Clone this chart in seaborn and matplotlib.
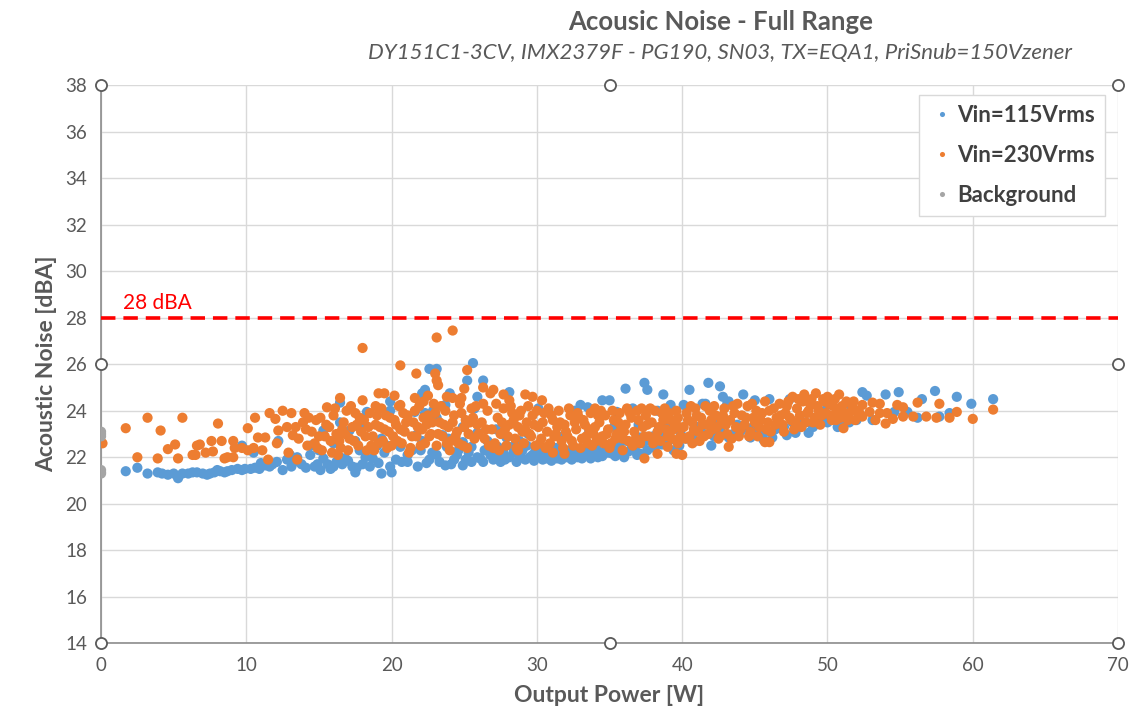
import numpy as np
import pandas as pd
import matplotlib
matplotlib.use('Agg')
import matplotlib.pyplot as plt
import seaborn as sns

# ### values (Output Power [W], Acoustic Noise [dBA])
vin115 = [
    # 0 - 13 W
    (1.7, 21.4), (2.5, 21.55), (3.2, 21.3), (3.9, 21.35), (4.2, 21.3), (4.6, 21.25), (5.0, 21.3),
    (5.3, 21.1), (5.6, 21.3), (6.0, 21.3), (6.3, 21.35), (6.6, 21.35), (7.0, 21.3), (7.3, 21.25),
    (7.5, 21.3), (7.8, 21.35), (8.0, 21.45), (8.2, 21.4), (8.5, 21.35), (8.7, 21.4), (9.0, 21.45),
    (9.4, 21.5), (9.7, 21.45), (9.9, 21.5), (10.3, 21.5), (10.6, 21.55), (10.9, 21.5), (11.0, 21.75),
    (11.3, 21.65), (11.6, 21.6), (11.8, 21.7), (12.1, 21.8), (12.5, 21.45), (12.8, 21.9), (13.1, 21.6),
    (9.7, 22.5), (10.5, 22.2), (12.2, 22.7),
    # 13 - 26 W
    (13.0, 22.1), (13.5, 22.0), (13.8, 21.7), (14.1, 21.55), (14.4, 22.1), (14.4, 22.5), (14.7, 21.6),
    (15.1, 21.45), (15.3, 21.95), (15.3, 23.15), (15.6, 21.7), (15.8, 21.5), (16.0, 22.6), (16.2, 21.8),
    (16.45, 22.0), (16.45, 23.5), (16.45, 24.35), (16.8, 21.95), (17.1, 23.15), (17.3, 21.6), (17.5, 22.7),
    (17.5, 21.35), (17.6, 21.55), (17.8, 23.3), (18.0, 21.7), (18.2, 22.0), (18.3, 23.95), (18.7, 21.95),
    (19.0, 22.5), (19.3, 21.3), (19.5, 22.2), (19.7, 22.5), (19.9, 24.4), (19.9, 21.6), (19.9, 24.0),
    (20.0, 21.35), (20.3, 21.9), (20.6, 22.45), (20.7, 21.8), (20.8, 23.15), (21.1, 21.8), (21.1, 22.1),
    (21.4, 22.3), (21.6, 23.95), (21.7, 22.95), (22.1, 22.7), (22.1, 24.75), (22.3, 24.9), (22.3, 23.9),
    (22.4, 21.75), (22.6, 25.8), (22.8, 22.2), (22.85, 24.0), (23.1, 25.8), (23.1, 23.7), (23.1, 22.1),
    (23.5, 22.95), (23.7, 21.65), (23.7, 24.25), (23.8, 22.45), (24.0, 24.75), (24.3, 21.9), (24.5, 22.1),
    (24.9, 22.65), (24.9, 23.3), (24.9, 21.65), (25.2, 25.3), (25.5, 21.8), (25.5, 22.45), (25.6, 26.05),
    (25.7, 24.1), (25.9, 24.6), (25.9, 23.05), (25.9, 22.0),
    (16.0, 21.6), (16.6, 21.7), (17.0, 21.85), (18.5, 21.6), (19.1, 21.75), (21.8, 21.6), (22.6, 21.9),
    (23.3, 21.8), (24.1, 21.7), (25.1, 21.9), (25.3, 22.2), (14.9, 21.7), (13.3, 21.8), (15.0, 22.3),
    (17.8, 22.3), (19.3, 22.8), (20.5, 22.6), (22.0, 22.3), (24.6, 22.3), (23.9, 22.8),
    # 26 - 40 W
    (26.1, 21.95), (26.3, 25.3), (26.3, 21.8), (26.6, 22.7), (26.8, 22.1), (27.0, 21.9), (27.3, 22.45),
    (27.5, 21.8), (27.7, 22.2), (27.9, 22.85), (28.1, 24.8), (28.1, 22.0), (28.3, 22.45), (28.6, 21.8),
    (28.8, 22.7), (28.9, 22.0), (29.0, 22.3), (29.2, 21.9), (29.5, 22.0), (29.7, 22.1), (29.8, 21.85),
    (30.0, 22.15), (30.1, 24.1), (30.2, 22.05), (30.4, 21.9), (30.7, 21.95), (30.8, 23.95), (30.9, 22.1),
    (31.0, 21.85), (31.2, 22.2), (31.4, 21.95), (31.6, 22.05), (31.8, 22.2), (32.1, 22.0), (32.3, 22.15),
    (32.4, 21.9), (32.6, 24.0), (32.8, 22.0), (33.0, 24.25), (33.1, 21.95), (33.2, 22.2), (33.4, 22.1),
    (33.5, 24.15), (33.7, 21.95), (33.9, 22.3), (34.2, 22.0), (34.5, 24.45), (34.5, 22.05), (34.7, 22.25),
    (34.9, 22.2), (35.0, 24.45), (35.2, 22.15), (35.5, 23.95), (35.5, 22.3), (35.9, 22.2), (36.0, 22.0),
    (36.1, 24.95), (36.2, 22.7), (36.5, 22.35), (36.6, 24.1), (36.9, 22.1), (37.1, 22.85), (37.1, 22.15),
    (37.4, 25.2), (37.6, 24.9), (37.8, 22.7), (38.1, 22.4), (38.3, 24.0), (38.7, 24.7), (38.8, 22.85),
    (39.2, 24.25), (39.4, 22.3), (39.6, 22.7), (39.9, 23.0),
    (27.2, 23.2), (29.4, 23.0), (31.5, 22.9), (33.6, 23.1), (35.3, 23.3), (37.0, 23.4), (38.5, 23.2), (39.0, 23.5),
    (26.4, 22.3), (26.9, 22.5), (27.4, 22.1), (27.8, 21.9), (28.4, 22.2), (29.3, 22.5), (29.9, 22.3),
    (30.3, 22.35), (30.6, 22.2), (31.3, 22.4), (31.7, 21.9), (32.0, 22.3), (32.5, 22.4), (32.9, 22.25),
    (33.3, 22.4), (33.8, 22.15), (34.1, 22.35), (34.4, 22.2), (34.8, 22.45), (35.4, 22.05), (35.7, 22.45),
    (36.3, 22.25), (36.8, 22.5), (37.3, 22.6), (37.6, 22.3), (38.0, 22.9), (38.6, 22.55), (39.1, 22.75),
    (39.8, 22.5),
    # 40 - 53 W
    (40.1, 24.25), (40.5, 24.9), (40.7, 22.95), (41.0, 23.3), (41.4, 24.3), (41.6, 24.3), (41.8, 25.2),
    (42.0, 22.5), (42.3, 23.6), (42.6, 25.05), (42.8, 24.6), (43.1, 24.3), (43.2, 24.4), (43.2, 22.85),
    (43.3, 22.95), (43.8, 23.4), (44.2, 24.7), (44.5, 23.25), (44.7, 22.85), (45.0, 24.45), (45.6, 22.75),
    (45.7, 23.1), (46.0, 24.5), (46.2, 22.85), (46.6, 23.7), (47.2, 22.95), (47.4, 24.5), (47.8, 23.05),
    (48.2, 23.4), (48.7, 23.05), (49.3, 23.6), (49.8, 24.0), (50.3, 24.3), (50.7, 23.3), (51.2, 23.7),
    (51.6, 24.2), (52.0, 23.6), (52.4, 24.8), (52.7, 24.65),
    (40.3, 22.8), (40.9, 22.7), (41.5, 23.0), (42.2, 22.9), (42.6, 23.2), (43.5, 23.0), (44.0, 23.1),
    (44.9, 23.3), (45.3, 23.0), (46.4, 23.2), (47.0, 23.3), (47.6, 23.5), (48.5, 23.5), (49.0, 23.3),
    (49.6, 23.6), (50.0, 23.5), (50.9, 23.6), (51.5, 23.5),
    # 53 - 62 W
    (53.1, 23.6), (54.0, 24.7), (54.6, 23.95), (54.9, 24.8), (55.5, 23.95), (56.2, 23.7), (56.5, 24.5),
    (57.4, 24.85), (57.7, 23.75), (58.4, 23.9), (58.9, 24.6), (59.9, 24.3), (61.4, 24.5),
]

vin230 = [
    # 0 - 13 W
    (0.1, 22.6), (1.7, 23.25), (2.5, 22.0), (3.2, 23.7), (3.9, 21.95), (4.1, 23.15), (4.6, 22.35),
    (5.1, 22.55), (5.3, 21.95), (5.6, 23.7), (6.3, 22.1), (6.5, 22.1), (6.6, 22.5), (6.8, 22.55),
    (7.2, 22.2), (7.6, 22.7), (7.7, 22.25), (8.05, 23.45), (8.3, 22.7), (8.5, 21.95), (8.7, 22.0),
    (9.1, 22.7), (9.1, 22.0), (9.2, 22.4), (9.7, 22.4), (10.1, 23.25), (10.1, 22.3), (10.5, 22.4),
    (10.6, 23.7), (10.8, 22.85), (11.1, 22.3), (11.3, 22.85), (11.5, 21.9), (11.6, 23.9), (12.0, 23.65),
    (12.1, 22.6), (12.2, 23.15), (12.5, 24.0), (12.8, 23.3), (12.9, 22.2), (13.1, 23.9), (13.2, 22.95),
    # 13 - 26 W
    (18.0, 26.7), (20.6, 25.95), (21.7, 25.6), (23.1, 27.15), (24.2, 27.45), (23.0, 25.6), (23.1, 25.3),
    (23.2, 25.1), (19.1, 24.75), (19.5, 24.75), (20.2, 24.65), (16.45, 24.55), (18.0, 24.45), (15.55, 24.15),
    (14.0, 23.9), (20.6, 24.25), (21.6, 24.55), (22.2, 24.4), (22.5, 24.65), (23.8, 24.6), (24.2, 24.55),
    (24.8, 24.55), (25.2, 25.75), (25.0, 24.95), (13.5, 21.9),
    (13.4, 23.3), (13.6, 22.8), (13.9, 23.5), (14.2, 22.5), (14.5, 23.1), (14.8, 23.6), (15.0, 22.9),
    (15.2, 22.3), (15.5, 23.4), (15.8, 22.7), (16.0, 23.8), (16.2, 23.0), (16.5, 22.4), (16.7, 23.5),
    (16.9, 24.0), (17.1, 22.8), (17.3, 23.3), (17.5, 23.9), (17.7, 22.5), (17.9, 23.1), (18.1, 23.6),
    (18.3, 22.3), (18.5, 23.9), (18.7, 22.9), (18.9, 23.4), (19.1, 22.6), (19.3, 24.1), (19.5, 23.2),
    (19.7, 22.4), (19.9, 23.7), (20.1, 22.9), (20.3, 23.4), (20.5, 24.2), (20.7, 22.6), (20.9, 23.1),
    (21.1, 23.8), (21.3, 22.4), (21.5, 23.5), (21.7, 22.9), (21.9, 24.2), (22.1, 23.2), (22.3, 22.6),
    (22.5, 23.8), (22.7, 23.0), (22.9, 24.3), (23.1, 22.5), (23.3, 23.5), (23.5, 22.9), (23.7, 24.0),
    (23.9, 23.3), (24.1, 22.7), (24.3, 23.8), (24.5, 23.1), (24.7, 24.3), (24.9, 22.5), (25.1, 23.6),
    (25.3, 23.0), (25.5, 24.1), (25.7, 22.8), (25.9, 23.4),
    (14.1, 23.2), (15.1, 23.7), (15.9, 22.2), (16.6, 23.2), (17.2, 24.2), (17.8, 23.7), (18.4, 23.3),
    (19.0, 23.8), (19.8, 23.1), (20.4, 22.7), (21.0, 23.5), (21.8, 23.3), (22.4, 23.4), (23.0, 23.9),
    (23.6, 23.4), (24.4, 22.9), (25.0, 23.3), (25.6, 23.7), (14.7, 22.6), (16.3, 22.1), (18.8, 22.3),
    (21.2, 22.2), (24.0, 22.3),
    (14.3, 23.7), (14.9, 22.4), (15.4, 22.9), (15.7, 23.3), (16.1, 24.1), (16.4, 22.7), (16.8, 23.0),
    (17.0, 22.3), (17.4, 22.7), (17.6, 23.4), (18.2, 22.9), (18.6, 22.5), (18.9, 24.2), (19.2, 23.3),
    (19.4, 22.7), (19.6, 23.8), (20.0, 22.5), (20.2, 23.6), (20.6, 23.2), (20.8, 23.9), (21.4, 22.9),
    (21.6, 24.0), (22.0, 22.5), (22.2, 23.7), (22.6, 22.9), (22.8, 23.5), (23.2, 23.0), (23.4, 24.2),
    (23.8, 22.6), (24.2, 23.5), (24.6, 22.6), (24.8, 23.9), (25.2, 22.4), (25.4, 23.5), (25.8, 24.2),
    (26.0, 23.0),
    # 26 - 40 W
    (26.3, 25.0), (26.8, 24.75), (27.0, 24.9), (27.7, 24.7), (28.1, 24.45), (29.2, 24.7), (29.7, 24.6),
    (30.35, 24.45), (34.0, 24.1), (27.0, 22.4), (28.7, 22.3), (31.1, 22.2), (31.9, 22.15), (35.9, 22.3),
    (37.4, 21.95), (38.3, 22.15), (39.0, 22.45), (39.6, 22.15),
    (26.2, 23.5), (26.4, 22.8), (26.6, 24.0), (26.9, 23.2), (27.1, 22.6), (27.3, 23.7), (27.5, 23.0),
    (27.7, 24.1), (27.9, 22.5), (28.1, 23.4), (28.3, 23.9), (28.5, 22.8), (28.7, 23.3), (28.9, 24.0),
    (29.1, 22.6), (29.3, 23.5), (29.5, 23.0), (29.7, 23.8), (29.9, 22.5), (30.1, 23.3), (30.3, 22.8),
    (30.5, 23.9), (30.7, 23.1), (30.9, 22.6), (31.1, 23.6), (31.3, 23.0), (31.5, 24.0), (31.7, 22.7),
    (31.9, 23.4), (32.1, 22.9), (32.3, 23.8), (32.5, 22.5), (32.7, 23.2), (32.9, 23.7), (33.1, 22.8),
    (33.3, 23.4), (33.5, 22.6), (33.7, 23.9), (33.9, 23.0), (34.1, 22.7), (34.3, 23.5), (34.5, 22.9),
    (34.7, 23.8), (34.9, 23.2), (35.1, 22.6), (35.3, 23.6), (35.5, 23.0), (35.7, 23.9), (35.9, 22.8),
    (36.1, 23.4), (36.3, 22.7), (36.5, 23.7), (36.7, 23.1), (36.9, 24.0), (37.1, 22.6), (37.3, 23.3),
    (37.5, 23.8), (37.7, 22.9), (37.9, 23.5), (38.1, 24.0), (38.3, 23.1), (38.5, 22.7), (38.7, 23.6),
    (38.9, 23.2), (39.1, 23.9), (39.3, 22.8), (39.5, 23.4), (39.7, 23.7), (39.9, 22.9),
    (26.5, 23.2), (27.4, 22.3), (28.4, 23.6), (29.0, 23.1), (30.0, 24.0), (30.6, 22.4), (31.4, 23.3),
    (32.2, 24.1), (33.0, 22.4), (33.6, 23.2), (34.4, 24.0), (35.0, 22.4), (35.8, 23.3), (36.6, 22.5),
    (37.2, 24.1), (38.0, 22.6), (38.8, 24.1), (39.4, 23.2), (27.8, 23.2), (29.6, 22.9), (31.0, 23.8),
    (32.6, 23.5), (34.8, 23.0), (36.4, 23.9), (38.4, 23.3),
    (26.3, 24.3), (26.7, 22.5), (27.2, 24.3), (27.6, 23.5), (28.0, 22.9), (28.2, 24.2), (28.6, 22.4),
    (28.8, 23.8), (29.2, 23.2), (29.4, 24.2), (29.8, 23.4), (30.2, 22.6), (30.4, 23.5), (30.8, 24.1),
    (31.2, 22.9), (31.6, 23.5), (31.8, 22.4), (32.0, 23.1), (32.4, 22.7), (32.8, 23.9), (33.2, 23.6),
    (33.4, 22.9), (33.8, 22.5), (34.0, 23.3), (34.2, 23.8), (34.6, 22.6), (35.2, 24.0), (35.4, 22.8),
    (35.6, 23.5), (36.0, 23.1), (36.2, 24.1), (36.8, 22.8), (37.0, 23.6), (37.4, 22.9), (37.6, 23.4),
    (37.8, 24.1), (38.2, 22.8), (38.6, 23.9), (39.0, 22.9), (39.2, 23.6), (39.6, 24.0), (39.8, 23.3),
    # 40 - 52 W
    (40.1, 23.3), (40.3, 23.9), (40.5, 22.9), (40.7, 23.5), (40.9, 24.1), (41.1, 23.1), (41.3, 23.7),
    (41.5, 22.9), (41.7, 23.4), (41.9, 24.0), (42.1, 23.2), (42.3, 23.8), (42.5, 22.8), (42.7, 23.5),
    (42.9, 24.1), (43.1, 23.0), (43.3, 23.6), (43.5, 24.2), (43.7, 23.3), (43.9, 22.9), (44.1, 23.8),
    (44.3, 23.4), (44.5, 24.2), (44.7, 23.1), (44.9, 23.7), (45.1, 24.0), (45.3, 23.3), (45.5, 23.9),
    (45.7, 24.4), (45.9, 23.5), (46.1, 23.1), (46.3, 24.1), (46.5, 23.7), (46.7, 24.3), (46.9, 23.4),
    (47.1, 23.9), (47.3, 24.4), (47.5, 23.6), (47.7, 23.2), (47.9, 24.1), (48.1, 23.8), (48.3, 24.4),
    (48.5, 23.5), (48.7, 24.0), (48.9, 24.5), (49.1, 23.7), (49.3, 24.2), (49.5, 23.4), (49.7, 24.5),
    (49.9, 23.9), (50.1, 24.3), (50.3, 23.6), (50.5, 24.5), (50.7, 24.0), (50.9, 23.7), (51.1, 23.25),
    (51.3, 24.4), (51.5, 23.9), (51.7, 24.2), (51.9, 23.6),
    (40.0, 22.1), (39.7, 22.6), (40.7, 22.6), (43.2, 22.45), (45.7, 22.65), (46.0, 22.65),
    (47.6, 24.6), (48.4, 24.7), (49.2, 24.75), (50.0, 24.6), (50.8, 24.7),
    (40.2, 22.8), (40.4, 23.6), (40.6, 24.2), (40.8, 23.2), (41.0, 23.8), (41.2, 22.7), (41.4, 23.4),
    (41.6, 24.2), (41.8, 23.0), (42.0, 23.6), (42.2, 24.2), (42.4, 23.3), (42.6, 22.9), (42.8, 23.8),
    (43.0, 23.4), (43.4, 22.8), (43.6, 23.9), (43.8, 24.3), (44.0, 23.2), (44.4, 23.7), (44.6, 22.9),
    (44.8, 24.3), (45.0, 23.5), (45.2, 22.9), (45.4, 23.6), (45.8, 23.2), (46.0, 24.0), (46.4, 23.4),
    (46.8, 23.8), (47.0, 23.1), (47.2, 24.2), (47.4, 23.7), (47.8, 23.5), (48.0, 24.5), (48.2, 23.3),
    (48.6, 23.9), (48.8, 24.3), (49.0, 23.5), (49.4, 24.0), (49.6, 23.8), (49.8, 24.4), (50.2, 23.8),
    (50.4, 24.2), (50.6, 23.6), (51.0, 24.2), (51.2, 23.9), (51.4, 23.6), (51.8, 24.4), (52.2, 23.9),
    # 52 - 62 W
    (52.0, 24.0), (52.4, 24.25), (52.4, 23.75), (52.9, 23.95), (53.1, 24.35), (53.3, 23.6), (53.6, 24.3),
    (53.6, 23.9), (54.0, 23.45), (54.1, 23.9), (54.5, 23.65), (54.8, 24.25), (55.2, 24.15), (55.2, 23.75),
    (55.9, 23.75), (56.2, 24.35), (56.8, 23.75), (57.5, 23.7), (57.7, 24.3), (58.4, 23.7), (58.9, 23.95),
    (60.0, 23.65), (61.4, 24.05),
]

background = [(0.0, 23.1), (0.0, 23.0), (0.0, 22.9), (0.0, 21.45), (0.0, 21.35), (0.0, 21.3)]

limit_db = 28
x_ticks = list(range(0, 71, 10))
y_ticks = list(range(14, 39, 2))

series_names = ['Vin=115Vrms', 'Vin=230Vrms', 'Background']
series_colors = ['#5B9BD5', '#ED7D31', '#A5A5A5']

# ### one long table for seaborn
frames = []
for name, pts in zip(series_names, [vin115, vin230, background]):
    d = pd.DataFrame(pts, columns=['W', 'dBA'])
    d['series'] = name
    frames.append(d)
df = pd.concat(frames, ignore_index=True)

sns.set_style('white')
plt.rcParams['font.family'] = ['Lato', 'DejaVu Sans']
txt = '#595959'

fig = plt.figure(figsize=(11.43, 7.22), dpi=100)
ax = fig.add_axes([0.0884, 0.109, 0.8898, 0.773])

sns.scatterplot(data=df, x='W', y='dBA', hue='series',
                hue_order=series_names, palette=series_colors,
                s=54, linewidth=0, alpha=1, ax=ax, zorder=3)

ax.axhline(limit_db, color='#FF0000', lw=2.6, ls=(0, (4, 2.2)), zorder=4)
ax.text(1.5, limit_db + 0.22, f'{limit_db} dBA', color='#FF0000', fontsize=15, va='bottom')

ax.set_xlim(0, 70)
ax.set_ylim(14, 38)
ax.set_xticks(x_ticks)
ax.set_yticks(y_ticks)
ax.grid(True, color='#D9D9D9', lw=1)
ax.set_axisbelow(True)
for s in ['top', 'right']:
    ax.spines[s].set_visible(False)
for s in ['left', 'bottom']:
    ax.spines[s].set_color('#8C8C8C')
    ax.spines[s].set_linewidth(1.2)
ax.tick_params(axis='both', length=0, labelsize=13.5, colors=txt, pad=10)

ax.set_xlabel('Output Power [W]', fontsize=16.5, fontweight='bold', color=txt, labelpad=8)
ax.set_ylabel('Acoustic Noise [dBA]', fontsize=16.5, fontweight='bold', color=txt, labelpad=6)

# selection handles of the chart frame
hx = [0, 35, 70, 0, 70, 0, 35, 70]
hy = [38, 38, 38, 26, 26, 14, 14, 14]
ax.plot(hx, hy, ls='none', marker='o', ms=8, mfc='white', mec='#595959', mew=1.3,
        clip_on=False, zorder=6)

leg = ax.legend(loc='upper right', bbox_to_anchor=(0.987, 0.982), borderaxespad=0,
                title=None, frameon=True, fancybox=False, framealpha=1, edgecolor='#D9D9D9',
                markerscale=0.5, handletextpad=0.15, handlelength=1.1, labelspacing=0.85,
                borderpad=0.45, prop={'size': 16, 'weight': 'bold'})
for t in leg.get_texts():
    t.set_color('#404040')

fig.text(0.63, 0.969, 'Acousic Noise - Full Range', ha='center', va='center',
         fontsize=18.5, fontweight='bold', color=txt)
fig.text(0.63, 0.926, 'DY151C1-3CV, IMX2379F - PG190, SN03, TX=EQA1, PriSnub=150Vzener',
         ha='center', va='center', fontsize=16, style='italic', color=txt)

plt.savefig('out.png', dpi=100)
